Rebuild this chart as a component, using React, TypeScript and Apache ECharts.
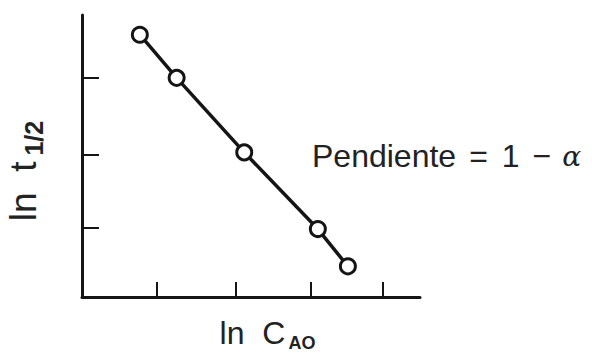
import React, { useEffect, useRef } from "react";
import * as echarts from "echarts";

const xData = [0.77, 1.26, 2.16, 3.14, 3.54];
const yData = [3.59, 3.0, 1.98, 0.93, 0.42];
const xTicks = [1.0, 2.05, 3.05, 4.0];
const yTicks = [0.95, 1.95, 3.0];
const xName = "ln  C";
const xSub = "AO";
const yName = "ln  t";
const ySub = "1/2";
const slopeParts = ["Pendiente", "=", "1", "−", "α"];

const FONT = "'Liberation Sans', Arial, sans-serif";
const INK = "#222222";

export default function App() {
  const ref = useRef<HTMLDivElement>(null);
  useEffect(() => {
    document.body.style.margin = "0";
    if (!ref.current) return;
    const chart = echarts.init(ref.current, undefined, { renderer: "svg" });
    const axisCommon = {
      type: "value" as const,
      axisLine: { show: true, onZero: false, lineStyle: { color: "#151515", width: 3 } },
      axisLabel: { show: false },
      splitLine: { show: false },
      nameLocation: "middle" as const,
    };
    const txt = (size: number, extra: any = {}) => ({
      fontFamily: FONT,
      fontSize: size,
      color: INK,
      fill: INK,
      ...extra,
    });
    chart.setOption({
      animation: false,
      backgroundColor: "#ffffff",
      grid: { left: 82, right: 172, top: 15, bottom: 57, containLabel: false, outerBoundsMode: "none" },
      xAxis: {
        ...axisCommon,
        min: 0,
        max: 4.5,
        axisTick: {
          show: true,
          inside: true,
          length: 15,
          customValues: xTicks,
          lineStyle: { color: "#151515", width: 2 },
        },
        name: `{a|${xName}}{s|${xSub}}`,
        nameGap: 20,
        nameTextStyle: {
          rich: {
            a: txt(32, { padding: [0, 0, 0, 33], verticalAlign: "top" }),
            s: txt(18, { fontWeight: "bold", padding: [17, 0, 0, 3], verticalAlign: "top" }),
          },
        },
      },
      yAxis: {
        ...axisCommon,
        min: 0,
        max: 3.86,
        axisTick: {
          show: true,
          inside: true,
          length: 17,
          customValues: yTicks,
          lineStyle: { color: "#151515", width: 2 },
        },
        name: `{a|${yName}}{s|${ySub}}`,
        nameRotate: 90,
        nameGap: 36,
        nameTextStyle: {
          rich: {
            a: txt(37, { verticalAlign: "top" }),
            s: txt(25, { fontWeight: "bold", padding: [16, 30, 0, 6], verticalAlign: "top" }),
          },
        },
      },
      series: [
        {
          type: "line",
          data: xData.map((x, i) => [x, yData[i]]),
          symbol: "circle",
          symbolSize: 15,
          showSymbol: true,
          lineStyle: { color: "#151515", width: 3.5 },
          itemStyle: { color: "#ffffff", borderColor: "#151515", borderWidth: 3 },
        },
      ],
      graphic: [
        {
          type: "text",
          x: 312,
          y: 156,
          style: {
            text: `{p|${slopeParts[0]}}{e|${slopeParts[1]}}{o|${slopeParts[2]}}{m|${slopeParts[3]}}{a|${slopeParts[4]}}`,
            verticalAlign: "middle",
            rich: {
              p: txt(32),
              e: txt(32, { padding: [0, 0, 0, 13] }),
              o: txt(32, { padding: [0, 0, 0, 14] }),
              m: txt(32, { padding: [0, 0, 0, 13] }),
              a: txt(28, { fontFamily: "'DejaVu Serif', serif", fontStyle: "italic", padding: [0, 0, 0, 11] }),
            },
          },
        },
      ],
    });
    return () => chart.dispose();
  }, []);
  return <div ref={ref} style={{ width: 592, height: 354 }} />;
}
